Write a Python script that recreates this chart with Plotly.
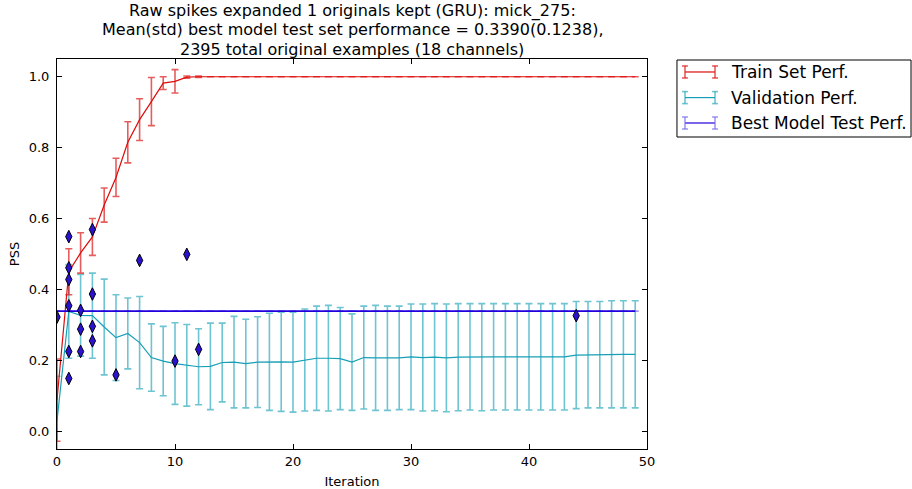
import plotly.graph_objects as go

iterations = list(range(50))

train_mean = [0.088, 0.45, 0.503, 0.548, 0.638, 0.716, 0.815, 0.879, 0.930, 0.982,
              0.987, 0.999, 1.0] + [1.0] * 37
train_std = [0.116, 0.065, 0.057, 0.052, 0.048, 0.054, 0.058, 0.059, 0.068, 0.018,
             0.033, 0.003, 0.002] + [0.0] * 37

val_mean = [0.030, 0.338, 0.327, 0.326, 0.294, 0.264, 0.276, 0.250, 0.208, 0.198,
            0.191, 0.186, 0.182, 0.183, 0.194, 0.195, 0.191, 0.195, 0.196, 0.196,
            0.195, 0.201, 0.206, 0.206, 0.205, 0.195, 0.208, 0.207, 0.206, 0.207,
            0.210, 0.208, 0.209, 0.207, 0.209, 0.210, 0.209, 0.210, 0.210, 0.210,
            0.210, 0.210, 0.210, 0.210, 0.215, 0.216, 0.216, 0.217, 0.217, 0.217]
val_std = [0.125, 0.132, 0.115, 0.120, 0.135, 0.121, 0.100, 0.130, 0.095, 0.098,
           0.115, 0.115, 0.107, 0.122, 0.111, 0.129, 0.125, 0.128, 0.137, 0.140,
           0.141, 0.144, 0.147, 0.149, 0.144, 0.136, 0.145, 0.148, 0.147, 0.146,
           0.149, 0.151, 0.151, 0.152, 0.151, 0.150, 0.151, 0.150, 0.150, 0.150,
           0.150, 0.150, 0.150, 0.150, 0.151, 0.150, 0.150, 0.151, 0.151, 0.151]

best_test_mean = 0.3390
best_test_std = 0.1238

test_x = [0, 1, 1, 1, 1, 1, 1, 2, 2, 2, 3, 3, 3, 3, 5, 7, 10, 11, 12, 44]
test_y = [0.322, 0.549, 0.461, 0.428, 0.354, 0.225, 0.149, 0.341, 0.288, 0.225,
          0.569, 0.387, 0.296, 0.255, 0.159, 0.482, 0.198, 0.499, 0.231, 0.326]

legend_labels = ["Train Set Perf.", "Validation Perf.", "Best Model Test Perf."]

title_lines = [
    "Raw spikes expanded 1 originals kept (GRU): mick_275:",
    "Mean(std) best model test set performance = %.4f(%.4f)," % (best_test_mean, best_test_std),
    "2395 total original examples (18 channels)",
]

RED, RED_EB = "#dd0b0b", "rgba(221,30,30,0.72)"
TEAL, TEAL_EB = "#169fb6", "rgba(22,159,182,0.62)"
BLUE, BLUE_EB = "#2200dd", "rgba(120,110,240,0.7)"
FONT = "DejaVu Sans"

fig = go.Figure()

fig.add_trace(go.Scatter(
    x=iterations, y=val_mean, mode="lines",
    line=dict(color=TEAL, width=1.2),
    error_y=dict(type="data", array=val_std, color=TEAL_EB, thickness=1.6, width=3.5),
    showlegend=False))

fig.add_trace(go.Scatter(
    x=iterations, y=train_mean, mode="lines",
    line=dict(color=RED, width=1.2),
    error_y=dict(type="data", array=train_std, color=RED_EB, thickness=1.6, width=3.5),
    showlegend=False))

fig.add_trace(go.Scatter(
    x=iterations, y=[best_test_mean] * len(iterations), mode="lines",
    line=dict(color=BLUE, width=1.6),
    error_y=dict(type="data", array=[0.0] * len(iterations), color=BLUE_EB, thickness=1.6, width=3.5),
    showlegend=False))

fig.add_trace(go.Scatter(
    x=test_x, y=test_y, mode="markers",
    marker=dict(symbol="diamond-tall", size=9, color="#2a12d2",
                line=dict(color="black", width=1)),
    showlegend=False))

# title lines
title_y = [1.1231, 1.0744, 1.0256]
for txt, yy in zip(title_lines, title_y):
    fig.add_annotation(text=txt, xref="paper", yref="paper", x=0.5, y=yy,
                       xanchor="center", yanchor="middle", showarrow=False,
                       font=dict(family=FONT, size=16, color="black"))

# manual legend (matplotlib style)
fig.add_shape(type="rect", xref="paper", yref="paper", x0=1.0508, x1=1.4475,
              y0=0.800, y1=0.9974, line=dict(color="black", width=1),
              fillcolor="white", layer="above")
row_y = [0.9667, 0.9010, 0.8359]
colors = [(RED, RED_EB), (TEAL, TEAL_EB), (BLUE, BLUE_EB)]
ix0, ix1, cap = 1.0644, 1.1153, 0.0154
for lab, yy, (c, ce) in zip(legend_labels, row_y, colors):
    fig.add_shape(type="line", xref="paper", yref="paper", x0=ix0, x1=ix1, y0=yy, y1=yy,
                  line=dict(color=c, width=1.2))
    for xx in (ix0, ix1):
        fig.add_shape(type="line", xref="paper", yref="paper", x0=xx, x1=xx,
                      y0=yy - cap, y1=yy + cap, line=dict(color=ce, width=1.6))
        fig.add_shape(type="line", xref="paper", yref="paper", x0=xx - 0.005, x1=xx + 0.005,
                      y0=yy + cap, y1=yy + cap, line=dict(color=ce, width=1.6))
        fig.add_shape(type="line", xref="paper", yref="paper", x0=xx - 0.005, x1=xx + 0.005,
                      y0=yy - cap, y1=yy - cap, line=dict(color=ce, width=1.6))
    fig.add_annotation(text=lab, xref="paper", yref="paper", x=1.1390, y=yy,
                       xanchor="left", yanchor="middle", showarrow=False,
                       font=dict(family=FONT, size=17, color="black"))

axis_common = dict(showline=True, linecolor="black", linewidth=1, mirror="ticks",
                   ticks="inside", ticklen=5, tickcolor="black", showgrid=False,
                   zeroline=False, automargin=False,
                   tickfont=dict(family=FONT, size=13, color="black"))

fig.update_xaxes(range=[0, 50], tickvals=[0, 10, 20, 30, 40, 50],
                 title=dict(text="Iteration", font=dict(family=FONT, size=13, color="black"),
                            standoff=11),
                 **axis_common)
fig.update_yaxes(range=[-0.05, 1.05], tickvals=[0.0, 0.2, 0.4, 0.6, 0.8, 1.0],
                 tickformat=".1f", ticklabelstandoff=4,
                 title=dict(text="PSS", font=dict(family=FONT, size=13, color="black"),
                            standoff=6),
                 **axis_common)

fig.update_layout(width=912, height=489, plot_bgcolor="white", paper_bgcolor="white",
                  margin=dict(l=57, r=265, t=59, b=40), showlegend=False,
                  font=dict(family=FONT))

fig.write_html("out.html", config={"displayModeBar": False},
               post_script="document.body.style.margin='0';document.body.style.overflow='hidden';")
